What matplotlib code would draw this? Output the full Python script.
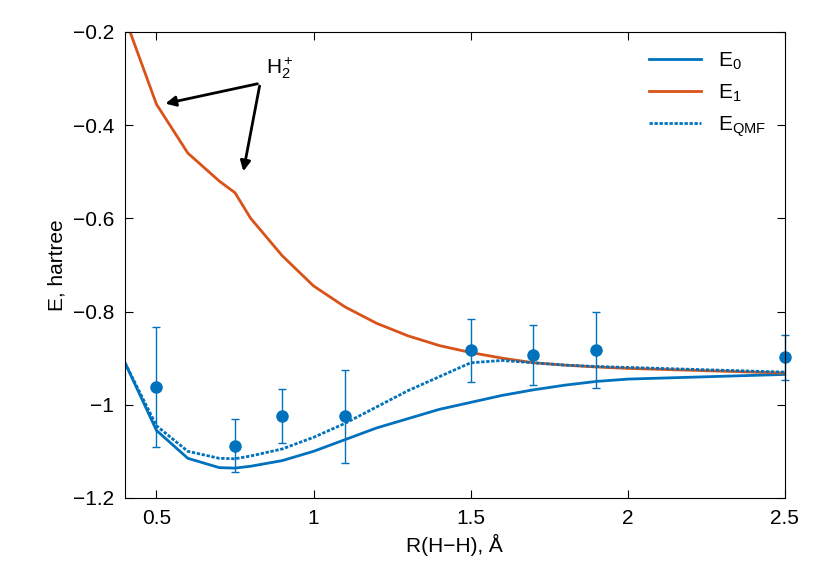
import matplotlib
matplotlib.use("Agg")
import matplotlib.pyplot as plt

plt.rcParams["font.family"] = "Liberation Sans"
plt.rcParams["font.size"] = 15
plt.rcParams["mathtext.fontset"] = "custom"
plt.rcParams["mathtext.rm"] = "Liberation Sans"
plt.rcParams["mathtext.it"] = "Liberation Sans"
plt.rcParams["mathtext.default"] = "regular"

r = [0.4, 0.5, 0.6, 0.7, 0.75, 0.8, 0.9, 1.0, 1.1, 1.2, 1.3, 1.4, 1.5, 1.6, 1.7, 1.8, 1.9, 2.0, 2.5]
e0 = [-0.91, -1.055, -1.115, -1.135, -1.136, -1.132, -1.12, -1.10, -1.075, -1.05, -1.03, -1.01, -0.995, -0.98, -0.968, -0.958, -0.95, -0.945, -0.935]
eqmf = [-0.91, -1.045, -1.10, -1.115, -1.116, -1.11, -1.095, -1.07, -1.04, -1.005, -0.97, -0.94, -0.91, -0.905, -0.91, -0.915, -0.918, -0.92, -0.93]
r1 = [0.4, 0.5, 0.6, 0.7, 0.75, 0.8, 0.9, 1.0, 1.1, 1.2, 1.3, 1.4, 1.5, 1.6, 1.7, 1.8, 1.9, 2.0, 2.5]
e1 = [-0.17, -0.355, -0.46, -0.52, -0.545, -0.6, -0.68, -0.745, -0.79, -0.825, -0.852, -0.873, -0.888, -0.9, -0.91, -0.915, -0.919, -0.922, -0.932]
rp = [0.5, 0.75, 0.9, 1.1, 1.5, 1.7, 1.9, 2.5]
ep = [-0.962, -1.088, -1.025, -1.025, -0.883, -0.893, -0.883, -0.898]
errp = [0.128, 0.057, 0.058, 0.1, 0.068, 0.065, 0.082, 0.048]

blue = "#0072bd"
orange = "#d95319"

fig = plt.figure(figsize=(8.3, 5.81), dpi=100)
ax = fig.add_axes([0.1506, 0.143, 0.795, 0.802])
ax.plot(r, e0, color=blue, lw=2, label="E$_0$")
ax.plot(r1, e1, color=orange, lw=2, label="E$_1$")
ax.plot(r, eqmf, color=blue, lw=2, ls=(0, (1.2, 0.6)), label="E$_{QMF}$")
ax.errorbar(rp, ep, yerr=errp, fmt="o", color=blue, ms=8, capsize=3, lw=1, clip_on=False)
ax.set_xlim(0.4, 2.5)
ax.set_ylim(-1.2, -0.2)
ax.set_xticks([0.5, 1, 1.5, 2, 2.5])
ax.set_xticklabels(["0.5", "1", "1.5", "2", "2.5"])
ax.set_yticks([-1.2, -1, -0.8, -0.6, -0.4, -0.2])
ax.set_yticklabels(["\u22121.2", "\u22121", "\u22120.8", "\u22120.6", "\u22120.4", "\u22120.2"])
ax.tick_params(direction="in", top=True, right=True, length=6, pad=8)
ax.set_xlabel("R(H\u2212H), \u00c5")
ax.set_ylabel("E, hartree")
ax.text(0.85, -0.29, "H$_2^+$", fontsize=15)
ax.annotate("", xy=(0.52, -0.355), xytext=(0.83, -0.31),
            arrowprops=dict(arrowstyle="-|>", color="black", lw=2))
ax.annotate("", xy=(0.775, -0.505), xytext=(0.83, -0.31),
            arrowprops=dict(arrowstyle="-|>", color="black", lw=2))
ax.legend(loc="upper right", frameon=False, handlelength=2.5, fontsize=15)
fig.savefig("out.png", dpi=100)
